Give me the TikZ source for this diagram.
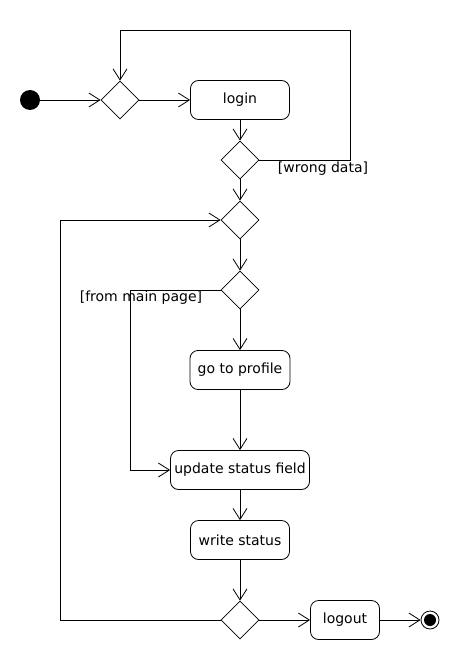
\documentclass[tikz,border=0pt]{standalone}
\usepackage{fontspec}
\setmainfont{DejaVu Sans}
\usetikzlibrary{arrows.meta,shapes.geometric}
\begin{document}
\begin{tikzpicture}[x=1pt,y=-1pt,
  font=\fontsize{14}{16}\selectfont,
  every path/.style={line width=0.8pt},
  flow/.style={draw,-{Straight Barb[length=11pt,width=14pt,line width=0.8pt]}},
  act/.style={draw,rounded corners=8pt,minimum height=39pt,inner sep=2pt},
  dec/.style={draw,diamond,minimum width=38pt,minimum height=38pt,inner sep=0pt},
  startnode/.style={circle,fill=black,minimum size=20pt,inner sep=0pt},
  endnode/.style={circle,draw,minimum size=18pt,inner sep=0pt},
  guard/.style={inner sep=1pt}]
\useasboundingbox (0,0) rectangle (460,660);
\node[startnode] (start) at (30,100) {};
\node[dec] (d1) at (120,100) {};
\node[act,minimum width=99pt] (login) at (240,100) {login};
\node[dec] (d2) at (240,160) {};
\node[dec] (d3) at (240,220) {};
\node[dec] (d4) at (240,290) {};
\node[act,minimum width=100pt] (profile) at (240,370) {go to profile};
\node[act,minimum width=139pt,inner sep=1pt] (update) at (240,470) {update status field};
\node[act,minimum width=99pt] (write) at (240,540) {write status};
\node[dec] (d5) at (240,620) {};
\node[act,minimum width=69pt] (logout) at (345,620) {logout};
\node[endnode] (end) at (430,620) {};
\fill (end.center) circle (6pt);
\coordinate (c1) at (350,30);
\coordinate (c2) at (130,470);
\coordinate (c3) at (60,220);
\node[guard] (g1) at (323,169) {[wrong data]};
\node[guard] (g2) at (141,298) {[from main page]};
\draw[flow] (start) -- (d1);
\draw[flow] (d1) -- (login);
\draw[flow] (login) -- (d2);
\draw[flow] (d2.east) -| (c1) -| (d1.north);
\draw[flow] (d2) -- (d3);
\draw[flow] (d3) -- (d4);
\draw[flow] (d4) -- (profile);
\draw[flow] (d4.west) -| (c2) -- (update.west);
\draw[flow] (profile) -- (update);
\draw[flow] (update) -- (write);
\draw[flow] (write) -- (d5);
\draw[flow] (d5) -- (logout);
\draw[flow] (logout) -- (end);
\draw[flow] (d5.west) -| (c3) -- (d3.west);
\end{tikzpicture}
\end{document}
